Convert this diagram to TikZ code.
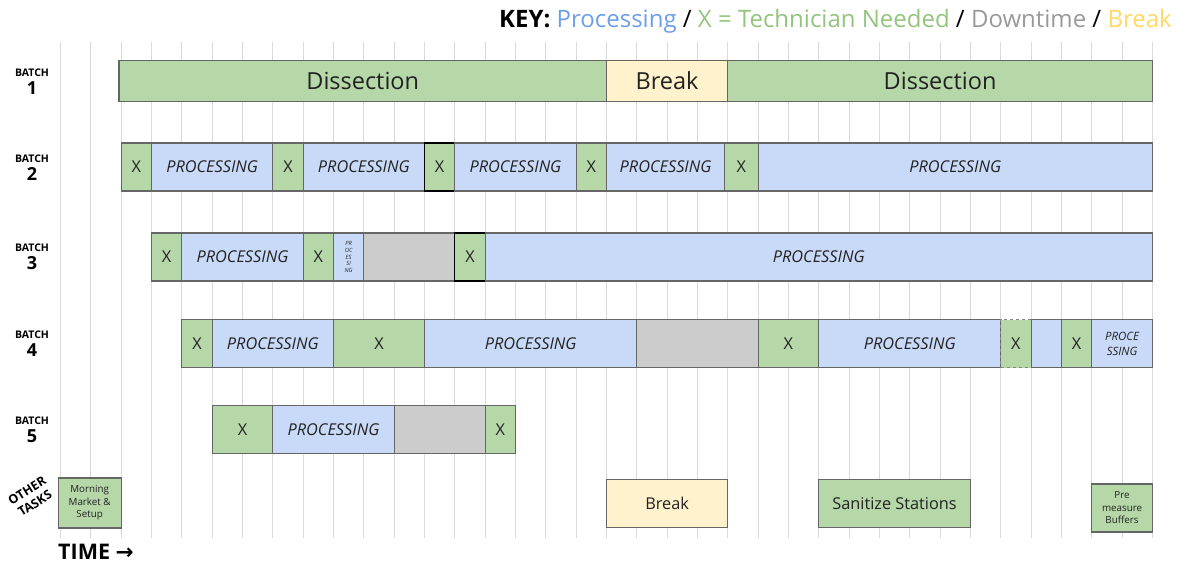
\documentclass[tikz,border=0pt]{standalone}
\usepackage{fontspec}
\setmainfont{Open Sans}
\newfontfamily\arrowfont{DejaVu Sans}
\definecolor{techgreen}{HTML}{B6D7A8}
\definecolor{procblue}{HTML}{C9DAF8}
\definecolor{downgray}{HTML}{CCCCCC}
\definecolor{breakyellow}{HTML}{FFF2CC}
\definecolor{edgegray}{HTML}{666666}
\definecolor{gridgray}{HTML}{D9D9D9}
\definecolor{keyblue}{HTML}{6D9EEB}
\definecolor{keygreen}{HTML}{93C47D}
\definecolor{keygray}{HTML}{999999}
\definecolor{keyyellow}{HTML}{FFD966}
\definecolor{inkgray}{HTML}{222222}

\tikzset{
  cell/.style={draw=edgegray, line width=1.1pt, inner sep=0pt, outer sep=0pt,
    minimum height=48pt, align=center, text=inkgray, font=\fontsize{16.3}{18}\selectfont},
  tech/.style={cell, fill=techgreen},
  proc/.style={cell, fill=procblue, font=\fontsize{16.3}{18}\selectfont\itshape},
  down/.style={cell, fill=downgray},
  brk/.style={cell, fill=breakyellow},
  wide/.style={minimum height=41pt, font=\fontsize{23.5}{26}\selectfont},
  small/.style={font=\fontsize{9.8}{12.5}\selectfont},
  strong/.style={draw=black},
  gridline/.style={gridgray, line width=1.1pt},
  batchlabel/.style={align=center, inner sep=0pt, text=black}
}
% \slot[style]{name}{from column}{to column}{y}{text}
\newcommand{\slot}[6][tech]{%
  \node[#1, minimum width={(#4-#3)*30.33pt}] (#2) at ({60.5+(#3+#4)/2*30.33},#5) {#6};}
\newcommand{\batchname}[3]{%
  \node[batchlabel, font=\fontsize{10.5}{18}\selectfont\bfseries] (#1) at (32,#2)
    {BATCH\\{\fontsize{18}{18}\selectfont #3}};}

\begin{document}
\begin{tikzpicture}[x=1pt,y=-1pt]
  \useasboundingbox (0,0) rectangle (1177,565);

  % time grid
  \foreach \c in {0,...,36}
    \draw[gridline] ({60.5+\c*30.33},42) -- ({60.5+\c*30.33},538);

  \node[anchor=base east, inner sep=0pt, font=\fontsize{24}{26}\selectfont] (key) at (1172,27)
    {\textbf{KEY:} \textcolor{keyblue}{Processing} / \textcolor{keygreen}{X = Technician Needed} / \textcolor{keygray}{Downtime} / \textcolor{keyyellow}{Break}};

  \batchname{lab1}{82}{1}
  \batchname{lab2}{168}{2}
  \batchname{lab3}{257}{3}
  \batchname{lab4}{344}{4}
  \batchname{lab5}{430}{5}
  \node[batchlabel, rotate=32, font=\fontsize{12.5}{15}\selectfont\bfseries] (other) at (31,497) {OTHER\\TASKS};
  \node[anchor=west, inner sep=0pt, font=\fontsize{21.5}{23}\selectfont\bfseries] (time) at (58,552) {TIME {\arrowfont →}};

  % batch 1
  \slot[tech,wide]{b1a}{1.93}{18}{81}{Dissection}
  \slot[brk,wide]{b1b}{18}{22}{81}{Break}
  \slot[tech,wide]{b1c}{22}{36}{81}{Dissection}

  % batch 2
  \slot{b2a}{2}{3}{167}{X}
  \slot[proc]{b2b}{3}{7}{167}{PROCESSING}
  \slot{b2c}{7}{8}{167}{X}
  \slot[proc]{b2d}{8}{12}{167}{PROCESSING}
  \slot[tech,strong]{b2e}{12}{13}{167}{X}
  \slot[proc]{b2f}{13}{17}{167}{PROCESSING}
  \slot{b2g}{17}{18}{167}{X}
  \slot[proc]{b2h}{18}{21.9}{167}{PROCESSING}
  \slot{b2i}{21.9}{23}{167}{X}
  \slot[proc]{b2j}{23}{36}{167}{PROCESSING}

  % batch 3
  \slot{b3a}{3}{4}{257}{X}
  \slot[proc]{b3b}{4}{8}{257}{PROCESSING}
  \slot{b3c}{8}{9}{257}{X}
  \slot[proc,font=\fontsize{5.8}{6.8}\selectfont\itshape]{b3d}{9}{10}{257}{PR\\OC\\ES\\SI\\NG}
  \slot[down]{b3e}{10}{13}{257}{}
  \slot[tech,strong]{b3f}{13}{14}{257}{X}
  \slot[proc]{b3g}{14}{36}{257}{PROCESSING}

  % batch 4
  \slot{b4a}{4}{5}{343.5}{X}
  \slot[proc]{b4b}{5}{9}{343.5}{PROCESSING}
  \slot{b4c}{9}{12}{343.5}{X}
  \slot[proc]{b4d}{12}{19}{343.5}{PROCESSING}
  \slot[down]{b4e}{19}{23}{343.5}{}
  \slot{b4f}{23}{25}{343.5}{X}
  \slot[proc]{b4g}{25}{31}{343.5}{PROCESSING}
  \slot[tech,dashed,draw=edgegray!80]{b4h}{31}{32}{343.5}{X}
  \slot[proc]{b4i}{32}{33}{343.5}{}
  \slot{b4j}{33}{34}{343.5}{X}
  \slot[proc,font=\fontsize{11.5}{15}\selectfont\itshape]{b4k}{34}{36}{343.5}{PROCE\\SSING}

  % batch 5
  \slot{b5a}{5}{7}{429.5}{X}
  \slot[proc]{b5b}{7}{11}{429.5}{PROCESSING}
  \slot[down]{b5c}{11}{14}{429.5}{}
  \slot{b5d}{14}{15}{429.5}{X}

  % other tasks
  \slot[tech,small,minimum height=50pt]{o1}{-0.08}{2}{503}{Morning\\Market \&\\Setup}
  \slot[brk]{o2}{18}{22}{503.5}{Break}
  \slot{o3}{25}{30}{503.5}{Sanitize Stations}
  \slot[tech,small]{o4}{34}{36}{508}{Pre\\measure\\Buffers}
\end{tikzpicture}
\end{document}
